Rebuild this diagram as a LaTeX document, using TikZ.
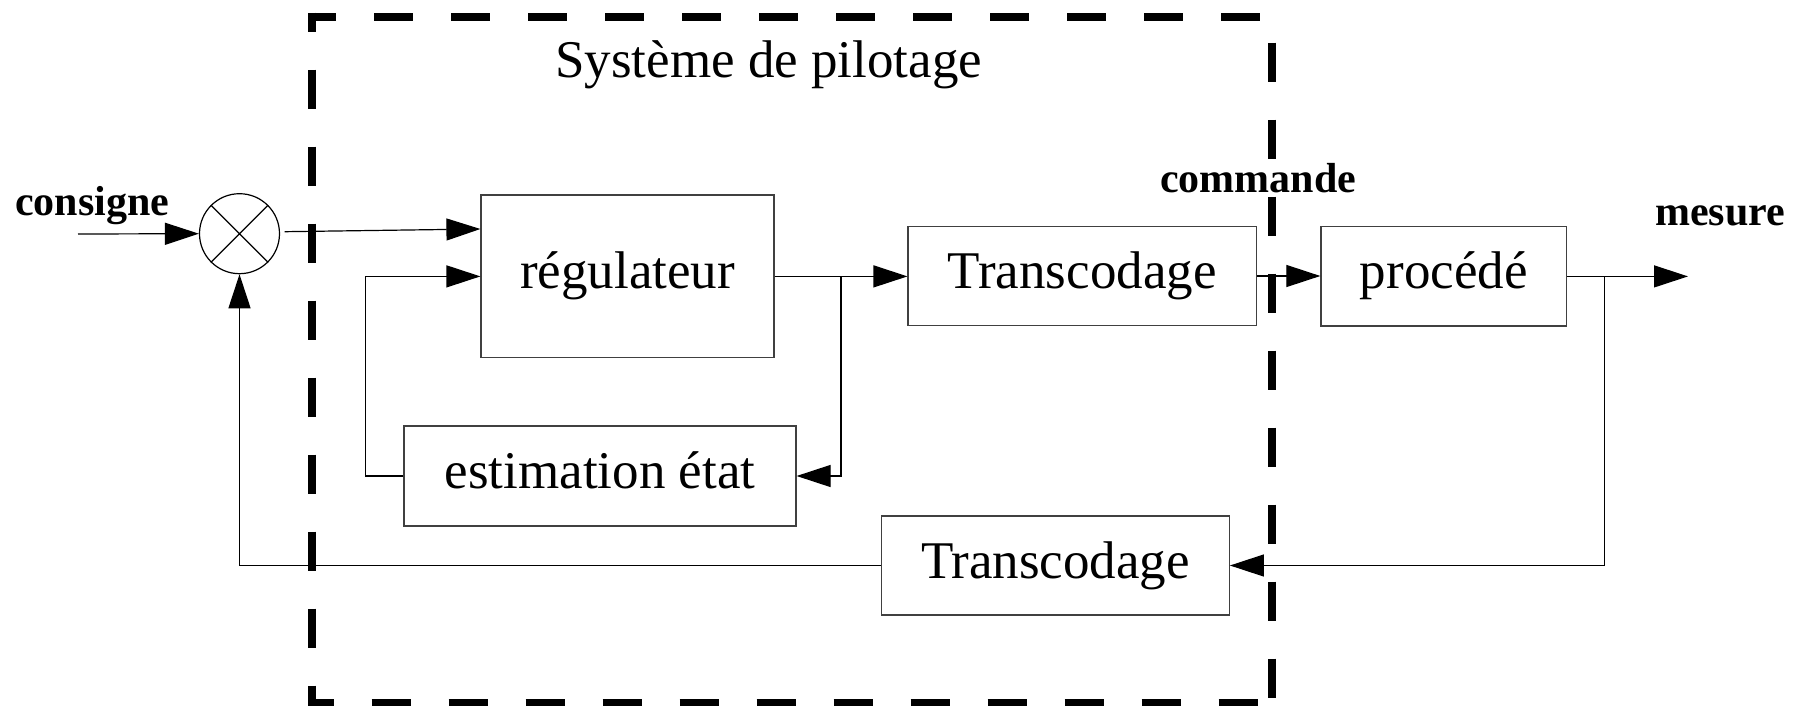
\documentclass[tikz,border=0pt]{standalone}
\usepackage{fontspec}
\setmainfont{Liberation Serif}
\usetikzlibrary{arrows.meta,calc}

\begin{document}
\begin{tikzpicture}[x=1pt,y=-1pt,
  wire/.style={line width=1.2pt, draw=black},
  flow/.style={wire, -{Triangle[length=34pt,width=22pt]}},
  block/.style={draw=black!75, line width=1.2pt, rectangle, inner sep=0pt,
                font=\fontsize{53}{60}\selectfont, text height=37pt, text depth=12pt},
  tag/.style={font=\fontsize{42}{48}\selectfont\bfseries, inner sep=0pt, anchor=base west},
  frame/.style={line width=8pt, dash pattern=on 39pt off 38pt}
]
\useasboundingbox (0,0) rectangle (1805,706);

% blocks
\node[block, minimum width=293pt, minimum height=162.7pt] (reg) at (627.5,276.4) {régulateur};
\node[block, minimum width=392pt, minimum height=100pt] (est) at (600,476) {estimation état};
\node[block, minimum width=348.3pt, minimum height=99.3pt] (tr1) at (1082.2,276) {Transcodage};
\node[block, minimum width=245.7pt, minimum height=99.3pt] (proc) at (1443.8,276.4) {procédé};
\node[block, minimum width=347.6pt, minimum height=99pt] (tr2) at (1055.5,565.5) {Transcodage};

% summing junction
\node[circle, draw=black, line width=1.2pt, minimum size=80pt, inner sep=0pt] (sum) at (239.5,233.7) {};
\draw[wire] (sum.north west) -- (sum.south east) (sum.north east) -- (sum.south west);

% labels
\node[tag] (consigne) at (15,215) {consigne};
\node[tag] (commande) at (1160,193) {commande};
\node[tag] (mesure) at (1655,225) {mesure};
\node[anchor=base west, inner sep=0pt, font=\fontsize{53}{60}\selectfont] (titre) at (555,77.5) {Système de pilotage};

% free ends and branch points
\coordinate (in) at (78,234);
\coordinate (out) at (1688,277);
\coordinate (jr) at (841,276.4);
\coordinate (jp) at (1604.3,276.4);

% connectors
\draw[flow] (in) -- (sum.west);
\draw[flow] ($(sum.east)+(4.5,-2)$) -- ($(reg.west)+(0,-47.4)$);
\draw[flow] (reg.east) -- (reg.east -| tr1.west);
\draw[flow] (jr) |- (est.east);
\draw[flow] (est.west) -- ++(-38,0) |- (reg.west);
\draw[flow] (tr1.east) -- (tr1.east -| proc.west);
\draw[flow] (proc.east) -- (proc.east -| out);
\draw[flow] (jp) |- (tr2.east);
\draw[flow] (tr2.west) -| (sum.south);

% boundary of the control system
\draw[frame, dash phase=11pt] (308,16.7) -- (1272,16.7) -- (1272,703);
\draw[frame, dash phase=20pt] (312,12.7) -- (312,703) -- (1272,703);
\end{tikzpicture}
\end{document}
